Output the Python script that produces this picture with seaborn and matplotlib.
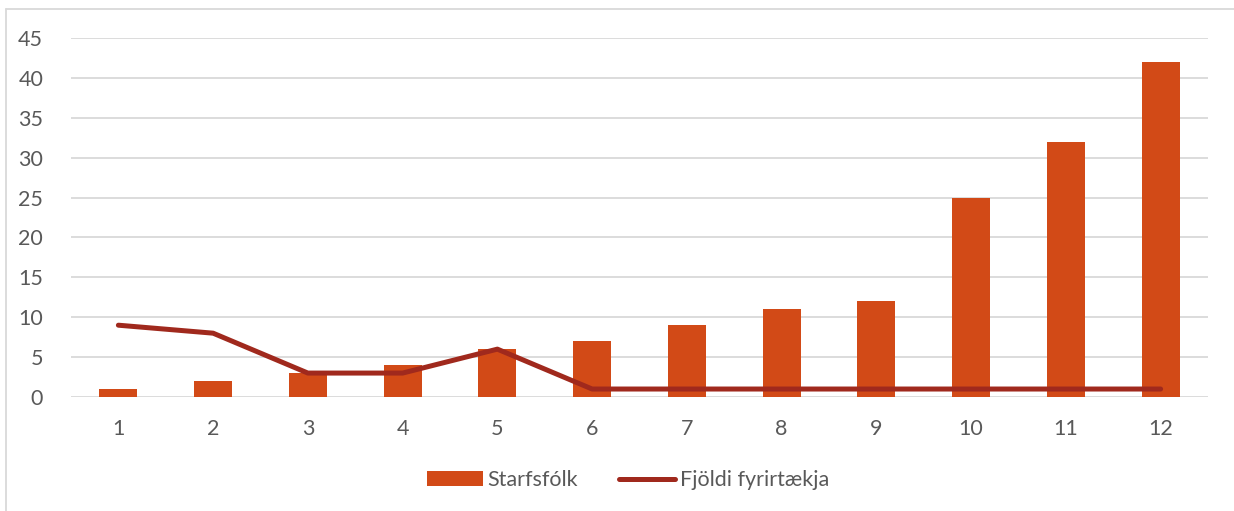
import seaborn as sns
import matplotlib.pyplot as plt
import pandas as pd
import numpy as np
from matplotlib.lines import Line2D

categories = ['1', '2', '3', '4', '5', '6', '7', '8', '9', '10', '11', '12']
starfsfolk = [1, 2, 3, 4, 6, 7, 9, 11, 12, 25, 32, 42]
fjoldi = [9, 8, 3, 3, 6, 1, 1, 1, 1, 1, 1, 1]

df = pd.DataFrame({'flokkur': categories, 'Starfsfólk': starfsfolk, 'Fjöldi fyrirtækja': fjoldi})
df['pos'] = np.arange(len(categories))

sns.set_theme(style="white")
plt.rcParams['font.family'] = ['Lato', 'DejaVu Sans']

fig = plt.figure(figsize=(12.34, 5.11), dpi=100)
ax = fig.add_axes([71 / 1234, 1 - 397 / 511, 1137 / 1234, 359 / 511])

bar_color = '#D24A17'
line_color = '#A0291D'
text_color = '#595959'

sns.barplot(data=df, x='flokkur', y='Starfsfólk', color=bar_color, width=0.4,
            saturation=1, ax=ax, label='Starfsfólk', zorder=2, linewidth=0)
sns.lineplot(data=df, x='pos', y='Fjöldi fyrirtækja', color=line_color, linewidth=3.6,
             ax=ax, label='Fjöldi fyrirtækja', zorder=3, solid_capstyle='round',
             solid_joinstyle='round')

ax.set_xlim(-0.5, 11.5)
ax.set_ylim(0, 45)
ax.set_yticks(range(0, 50, 5))
ax.set_xticks(range(len(categories)))
ax.set_xticklabels(categories)
ax.set_xlabel('')
ax.set_ylabel('')
ax.yaxis.grid(True, color='#D9D9D9', linewidth=1.3, zorder=0)
ax.set_axisbelow(True)
for s in ax.spines.values():
    s.set_visible(False)
ax.tick_params(axis='both', length=0, labelsize=15.5, colors=text_color)
ax.tick_params(axis='x', pad=16)
ax.tick_params(axis='y', pad=20)

handles, labels = ax.get_legend_handles_labels()
order = [labels.index('Starfsfólk'), labels.index('Fjöldi fyrirtækja')]
ax.legend([handles[i] for i in order], [labels[i] for i in order],
          loc='center', bbox_to_anchor=(0.509, 31 / 511), bbox_transform=fig.transFigure,
          ncol=2, frameon=False, fontsize=15.5, labelcolor=text_color,
          handlelength=2.6, handleheight=0.65, handletextpad=0.2, columnspacing=1.9)

# chart frame
fig.add_artist(Line2D([6 / 1234, 6 / 1234], [0, 1 - 9 / 511], color='#D9D9D9', linewidth=1.3))
fig.add_artist(Line2D([6 / 1234, 1], [1 - 9 / 511, 1 - 9 / 511], color='#D9D9D9', linewidth=1.3))

plt.savefig('out.png', dpi=100)
